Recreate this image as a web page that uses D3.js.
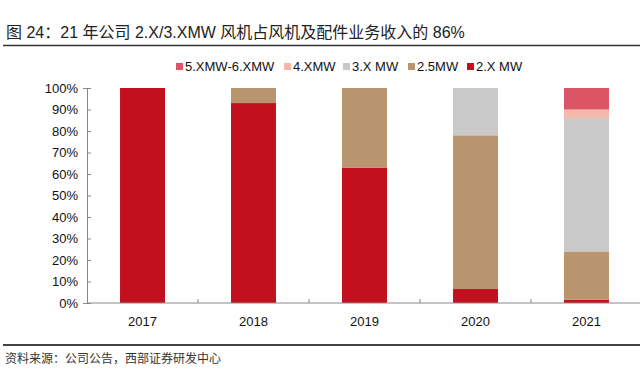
<!DOCTYPE html>
<html>
<head>
<meta charset="utf-8">
<script src="https://cdn.jsdelivr.net/npm/d3@7"></script>
<style>
  body { margin: 0; background: #fff; }
  svg { font-family: "Liberation Sans", Arial, "Noto Sans CJK SC", sans-serif; }
</style>
</head>
<body>
<svg width="640" height="375"></svg>
<script>
/* chart data */
var years = ["2017", "2018", "2019", "2020", "2021"];
var seriesNames = ["5.XMW-6.XMW", "4.XMW", "3.X MW", "2.5MW", "2.X MW"];
var v2x  = [100, 93, 63, 6.5, 1.5];
var v25  = [0, 7, 37, 71.5, 22.5];
var v3x  = [0, 0, 0, 22, 62];
var v4x  = [0, 0, 0, 0, 4];
var v56x = [0, 0, 0, 0, 10];
var yTicks = [0, 10, 20, 30, 40, 50, 60, 70, 80, 90, 100];
var colors = ["#dc5566", "#f2b9aa", "#c9c9c9", "#b8956f", "#c2101e"];

var svg = d3.select("svg"),
    margin = {top: 88, right: 0, bottom: 72, left: 87},
    width = 642 - margin.left,
    height = 303 - margin.top;

// title and rules
svg.append("text")
    .attr("x", 6).attr("y", 38)
    .attr("font-size", 16)
    .attr("fill", "#222")
    .attr("font-family", "'Liberation Sans', 'Noto Sans CJK SC', sans-serif")
    .text("图 24：21 年公司 2.X/3.XMW 风机占风机及配件业务收入的 86%");
svg.append("line").attr("x1", 3).attr("x2", 640).attr("y1", 45.5).attr("y2", 45.5)
    .attr("stroke", "#333").attr("stroke-width", 1.5);
svg.append("line").attr("x1", 3).attr("x2", 640).attr("y1", 345).attr("y2", 345)
    .attr("stroke", "#444").attr("stroke-width", 2);
svg.append("text")
    .attr("x", 5).attr("y", 363)
    .attr("font-size", 12)
    .attr("fill", "#333")
    .attr("font-family", "'Noto Sans CJK SC', sans-serif")
    .text("资料来源：公司公告，西部证券研发中心");

// stack the data by row
var rows = years.map(function(y, i) {
  return {year: y, "2.X MW": v2x[i], "2.5MW": v25[i], "3.X MW": v3x[i], "4.XMW": v4x[i], "5.XMW-6.XMW": v56x[i]};
});
var stackKeys = seriesNames.slice().reverse();
var stacked = d3.stack().keys(stackKeys)(rows);
var color = d3.scaleOrdinal().domain(seriesNames).range(colors);

var x = d3.scaleBand().domain(years).range([0, width]).paddingInner(0.595).paddingOuter(0.2975),
    y = d3.scaleLinear().domain([0, 100]).range([height, 0]);

var g = svg.append("g")
    .attr("transform", "translate(" + margin.left + "," + margin.top + ")");

g.selectAll(".series")
  .data(stacked)
  .enter().append("g")
    .attr("fill", function(d) { return color(d.key); })
  .selectAll("rect")
  .data(function(d) { return d; })
  .enter().append("rect")
    .attr("x", function(d) { return x(d.data.year); })
    .attr("y", function(d) { return y(d[1]); })
    .attr("width", x.bandwidth())
    .attr("height", function(d) { return y(d[0]) - y(d[1]); });

// y axis
var yAxis = g.append("g")
    .call(d3.axisLeft(y).tickValues(yTicks).tickSize(4).tickFormat(function(d) { return d + "%"; }));
yAxis.select(".domain").attr("stroke", "#888");
yAxis.selectAll(".tick line").attr("stroke", "#888").attr("x2", 4).attr("x1", 0);
yAxis.selectAll("text").attr("font-size", 13).attr("fill", "#111").attr("x", -9)
    .attr("font-family", "'Liberation Sans', Arial, sans-serif");

// x axis, ticks sit between categories
var step = x.step();
var xAxis = g.append("g").attr("transform", "translate(0," + height + ")");
xAxis.append("line").attr("x1", 0).attr("x2", width).attr("stroke", "#888");
xAxis.selectAll(".sep")
  .data(d3.range(1, years.length))
  .enter().append("line")
    .attr("x1", function(i) { return i * step; })
    .attr("x2", function(i) { return i * step; })
    .attr("y1", 0).attr("y2", -4)
    .attr("stroke", "#888");
xAxis.selectAll(".lbl")
  .data(years)
  .enter().append("text")
    .attr("x", function(d) { return x(d) + x.bandwidth() / 2; })
    .attr("y", 23)
    .attr("text-anchor", "middle")
    .attr("font-size", 13)
    .attr("fill", "#111")
    .text(function(d) { return d; });

// legend
var legendX = [176, 284, 343, 408, 467];
var legend = svg.append("g").selectAll("g")
  .data(seriesNames)
  .enter().append("g")
    .attr("transform", function(d, i) { return "translate(" + legendX[i] + ",62)"; });
legend.append("rect").attr("width", 7).attr("height", 7).attr("y", 1)
    .attr("fill", function(d) { return color(d); });
legend.append("text").attr("x", 9).attr("y", 8.5)
    .attr("font-size", 13).attr("fill", "#111")
    .text(function(d) { return d; });
</script>
</body>
</html>
